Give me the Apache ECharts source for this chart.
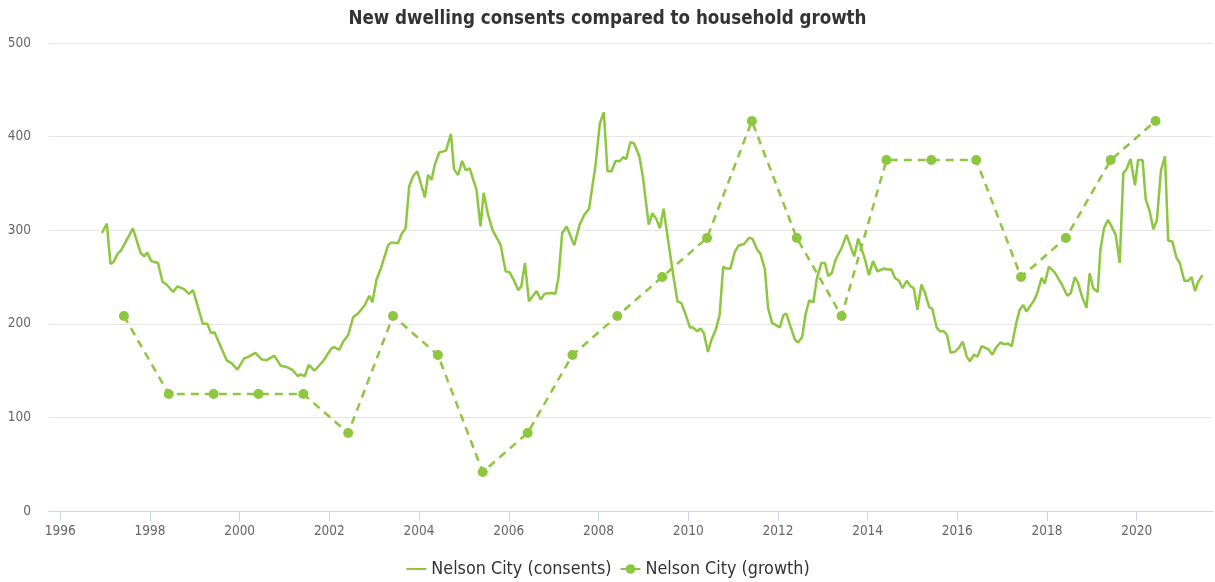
<!DOCTYPE html>
<html lang="en">
<head>
    <meta charset="UTF-8">
    <title>New dwelling consents</title>
    <script src="https://cdn.jsdelivr.net/npm/echarts@6/dist/echarts.min.js"></script>
    <style>
        html,
        body {
            margin: 0;
            height: 100%;
        }
        #main {
            width: 1215px;
            height: 582px;
        }
    </style>
</head>
<body>
    <div id="main"></div>
    <script type="text/javascript">
        const FONT = "'Liberation Sans Narrow', 'DejaVu Sans Condensed', sans-serif";
        const GREEN = '#8dc63f';

        // x ticks (years)
        const yearTicks = [1996, 1998, 2000, 2002, 2004, 2006, 2008, 2010, 2012, 2014, 2016, 2018, 2020];

        // household growth, one value per year (mid-year)
        const growthYears = [1997.42, 1998.42, 1999.42, 2000.42, 2001.42, 2002.42, 2003.42, 2004.42,
            2005.42, 2006.42, 2007.42, 2008.42, 2009.42, 2010.42, 2011.42, 2012.42, 2013.42, 2014.42,
            2015.42, 2016.42, 2017.42, 2018.42, 2019.42, 2020.42];
        const growthValues = [208.3, 125, 125, 125, 125, 83.3, 208.3, 166.7, 41.7, 83.3, 166.7, 208.3,
            250, 291.7, 416.7, 291.7, 208.3, 375, 375, 375, 250, 291.7, 375, 416.7];

        // dwelling consents (rolling), [year, value]
        const consents = [
            [1996.93, 297], [1997.04, 307], [1997.12, 264], [1997.19, 266], [1997.28, 275], [1997.35, 278],
            [1997.62, 302], [1997.79, 276], [1997.87, 272], [1997.94, 276], [1998.03, 267], [1998.18, 265],
            [1998.28, 245], [1998.37, 242], [1998.52, 234], [1998.61, 240], [1998.76, 237], [1998.87, 232],
            [1998.96, 236], [1999.18, 200], [1999.28, 200], [1999.36, 190], [1999.44, 191], [1999.71, 161],
            [1999.82, 158], [1999.95, 151], [2000.10, 163], [2000.20, 165], [2000.35, 169], [2000.49, 162],
            [2000.60, 161], [2000.77, 166], [2000.92, 155], [2001.04, 154], [2001.17, 151], [2001.30, 144],
            [2001.36, 146], [2001.45, 144], [2001.54, 156], [2001.67, 150], [2001.86, 160], [2002.05, 174],
            [2002.12, 175], [2002.22, 172], [2002.31, 181], [2002.42, 188], [2002.53, 207], [2002.64, 211],
            [2002.79, 220], [2002.89, 230], [2002.96, 223], [2003.05, 247], [2003.14, 258], [2003.31, 284],
            [2003.38, 287], [2003.53, 286], [2003.61, 296], [2003.70, 302], [2003.78, 347], [2003.87, 358],
            [2003.96, 363], [2004.13, 335], [2004.20, 359], [2004.28, 354], [2004.35, 370], [2004.45, 383],
            [2004.60, 385], [2004.71, 403], [2004.78, 365], [2004.87, 359], [2004.96, 374], [2005.04, 364],
            [2005.13, 366], [2005.20, 355], [2005.28, 343], [2005.37, 304], [2005.44, 340], [2005.54, 316],
            [2005.64, 300], [2005.73, 292], [2005.82, 284], [2005.93, 256], [2006.02, 255], [2006.11, 247],
            [2006.21, 236], [2006.28, 240], [2006.36, 265], [2006.45, 224], [2006.62, 235], [2006.71, 226],
            [2006.80, 232], [2006.94, 233], [2007.04, 232], [2007.11, 250], [2007.19, 297], [2007.29, 304],
            [2007.46, 284], [2007.58, 306], [2007.69, 317], [2007.79, 323], [2007.93, 368], [2008.03, 414],
            [2008.12, 426], [2008.20, 363], [2008.29, 363], [2008.38, 374], [2008.48, 374], [2008.55, 378],
            [2008.62, 376], [2008.71, 394], [2008.79, 393], [2008.91, 379], [2008.99, 357], [2009.12, 306],
            [2009.20, 318], [2009.29, 312], [2009.37, 302], [2009.45, 323], [2009.55, 290], [2009.66, 254],
            [2009.76, 224], [2009.85, 222], [2009.95, 209], [2010.04, 196], [2010.11, 196], [2010.20, 192],
            [2010.28, 195], [2010.35, 190], [2010.44, 170], [2010.52, 183], [2010.61, 193], [2010.70, 209],
            [2010.78, 261], [2010.85, 259], [2010.94, 259], [2011.04, 277], [2011.13, 284], [2011.24, 285],
            [2011.36, 292], [2011.43, 291], [2011.54, 279], [2011.61, 275], [2011.71, 258], [2011.78, 217],
            [2011.87, 201], [2011.97, 198], [2012.04, 196], [2012.12, 209], [2012.19, 211], [2012.28, 197],
            [2012.38, 183], [2012.45, 180], [2012.54, 186], [2012.62, 211], [2012.70, 225], [2012.79, 223],
            [2012.87, 249], [2012.97, 265], [2013.05, 265], [2013.12, 251], [2013.20, 254], [2013.29, 269],
            [2013.42, 281], [2013.53, 295], [2013.70, 272], [2013.79, 291], [2013.94, 269], [2014.03, 252],
            [2014.12, 267], [2014.22, 256], [2014.36, 259], [2014.44, 258], [2014.53, 258], [2014.61, 249],
            [2014.70, 246], [2014.78, 238], [2014.87, 246], [2014.96, 240], [2015.03, 238], [2015.11, 215],
            [2015.20, 242], [2015.28, 233], [2015.37, 218], [2015.44, 216], [2015.54, 196], [2015.61, 192],
            [2015.70, 192], [2015.77, 188], [2015.85, 169], [2015.94, 170], [2016.03, 174], [2016.12, 181],
            [2016.21, 165], [2016.28, 160], [2016.37, 167], [2016.45, 165], [2016.54, 176], [2016.69, 173],
            [2016.78, 167], [2016.87, 175], [2016.96, 180], [2017.06, 178], [2017.13, 179], [2017.21, 176],
            [2017.32, 202], [2017.39, 215], [2017.47, 220], [2017.54, 213], [2017.71, 225], [2017.79, 234],
            [2017.88, 249], [2017.95, 243], [2018.04, 261], [2018.17, 255], [2018.32, 243], [2018.45, 230],
            [2018.53, 233], [2018.62, 250], [2018.69, 244], [2018.78, 229], [2018.88, 217], [2018.95, 254],
            [2019.03, 238], [2019.13, 234], [2019.19, 279], [2019.27, 302], [2019.36, 311], [2019.45, 303],
            [2019.53, 295], [2019.62, 265], [2019.70, 361], [2019.77, 365], [2019.86, 376], [2019.96, 348],
            [2020.03, 375], [2020.13, 375], [2020.20, 333], [2020.29, 320], [2020.37, 301], [2020.45, 311],
            [2020.54, 364], [2020.63, 379], [2020.70, 289], [2020.79, 288], [2020.89, 270], [2020.96, 265],
            [2021.06, 246], [2021.15, 246], [2021.22, 250], [2021.30, 235], [2021.37, 245], [2021.47, 252]
        ];

        const myChart = echarts.init(document.getElementById('main'));

        myChart.setOption({
            animation: false,
            title: {
                text: 'New dwelling consents compared to household growth',
                left: 'center',
                top: 5,
                textStyle: {
                    fontFamily: FONT,
                    fontSize: 18.6,
                    fontWeight: 'bold',
                    color: '#333333'
                }
            },
            legend: {
                bottom: -1,
                left: 'center',
                itemWidth: 20,
                itemHeight: 12,
                itemGap: 8,
                textStyle: {
                    fontFamily: FONT,
                    fontSize: 17.8,
                    color: '#333333'
                },
                data: [
                    { name: 'Nelson City (consents)', itemStyle: { opacity: 0 } },
                    { name: 'Nelson City (growth)' }
                ]
            },
            grid: {
                left: 49,
                right: 2,
                top: 43,
                bottom: 71
            },
            xAxis: {
                type: 'value',
                min: 1995.75,
                max: 2021.7,
                axisLine: { lineStyle: { color: '#ccd6eb' } },
                axisTick: {
                    length: 10,
                    lineStyle: { color: '#ccd6eb' },
                    customValues: yearTicks
                },
                axisLabel: {
                    customValues: yearTicks,
                    formatter: v => String(v),
                    margin: 13,
                    fontFamily: FONT,
                    fontSize: 13.5,
                    color: '#666666'
                },
                splitLine: { show: false }
            },
            yAxis: {
                type: 'value',
                min: 0,
                max: 500,
                interval: 100,
                axisLine: { show: false },
                axisTick: { show: false },
                axisLabel: {
                    margin: 18,
                    fontFamily: FONT,
                    fontSize: 13.5,
                    color: '#666666'
                },
                splitLine: { lineStyle: { color: '#e6e6e6' } }
            },
            series: [
                {
                    name: 'Nelson City (consents)',
                    type: 'line',
                    data: consents,
                    symbol: 'none',
                    color: GREEN,
                    lineStyle: { width: 2.5, color: GREEN }
                },
                {
                    name: 'Nelson City (growth)',
                    type: 'line',
                    data: growthYears.map((y, i) => [y, growthValues[i]]),
                    symbol: 'circle',
                    symbolSize: 10,
                    color: GREEN,
                    itemStyle: { color: GREEN },
                    lineStyle: { width: 2.5, type: [8, 6], color: GREEN }
                }
            ]
        });
    </script>
</body>
</html>
